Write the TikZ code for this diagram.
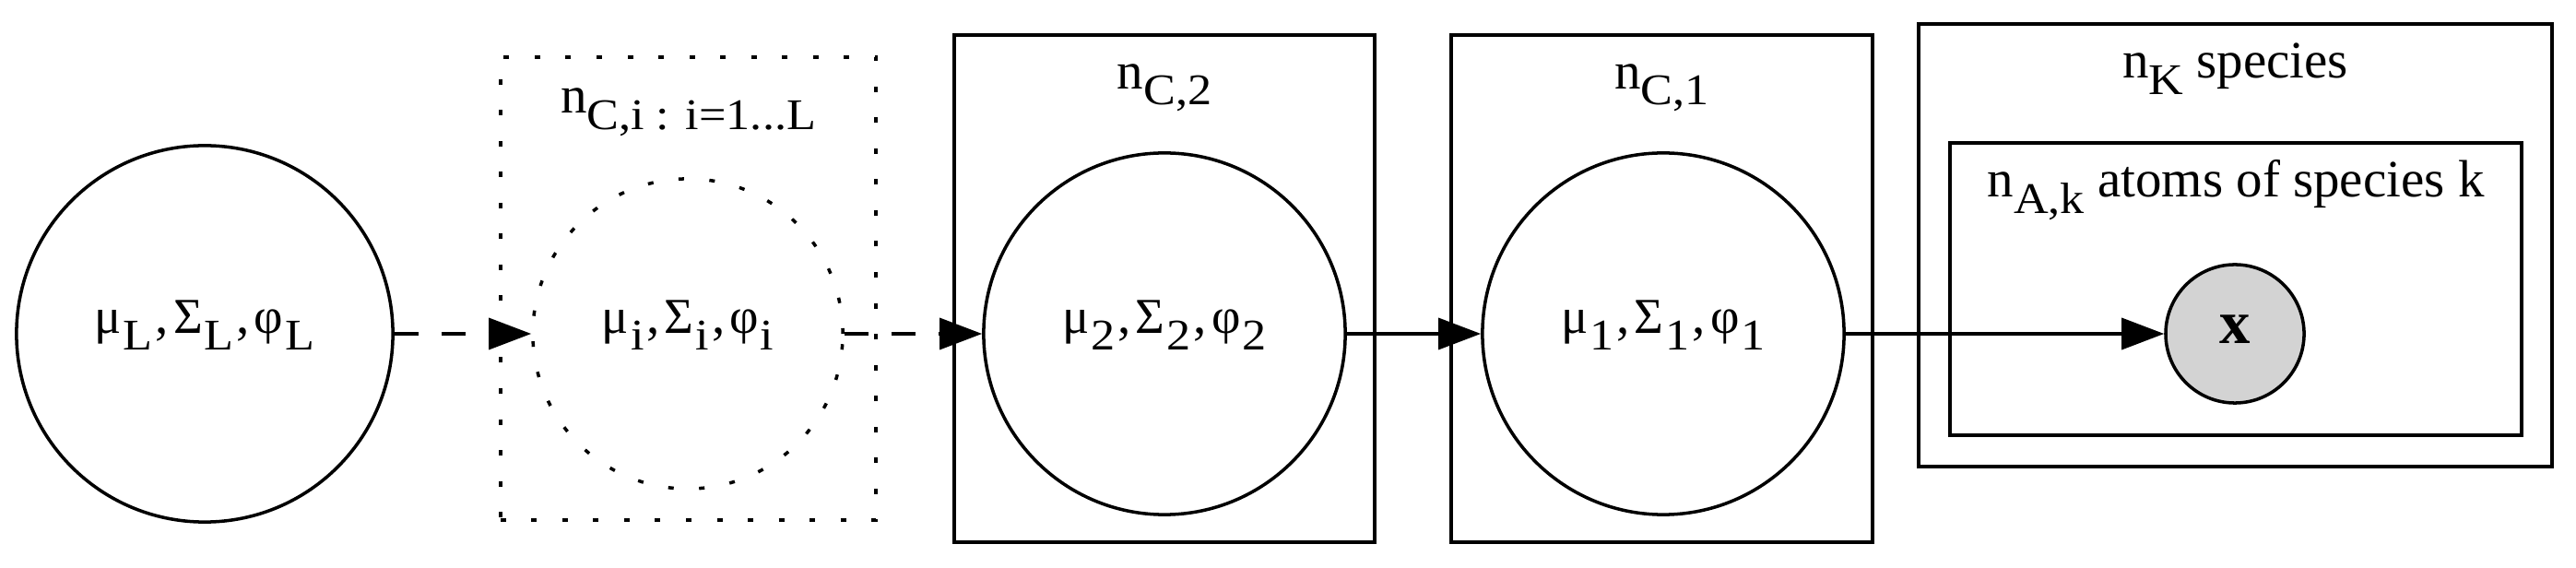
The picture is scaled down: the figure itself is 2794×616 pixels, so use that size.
\documentclass[tikz,border=0pt]{standalone}
\usepackage{fontspec}
\setmainfont{Liberation Serif}
\newfontfamily\stretchfam{Liberation Serif}[FakeStretch=1.1]
\usetikzlibrary{arrows.meta}
\newcommand\mainsz{\fontsize{16.2}{19}\selectfont}
\newcommand\subsz{\stretchfam\fontsize{13.5}{15}\selectfont}
\newcommand\grksz{\fontsize{15.5}{17}\selectfont}
\newcommand\sbx[1]{\raisebox{-0.17cm}{\subsz #1}}
\newcommand\grk[1]{{\grksz #1}\kern0.02cm}
\newcommand\cmmx{\kern0.03cm,\kern0.05cm}
\begin{document}
\begin{tikzpicture}[x=0.01cm,y=-0.01cm,
  var/.style={circle, draw, line width=1pt, inner sep=0pt, text height=0.3cm, text depth=0.3cm, font=\mainsz},
  dotvar/.style={var, dash pattern=on 0.06cm off 0.275cm},
  plate/.style={rectangle, draw, line width=1pt, inner sep=0pt},
  dotplate/.style={plate, dash pattern=on 0.06cm off 0.275cm},
  platelbl/.style={anchor=base, inner sep=0pt, font=\mainsz},
  edge/.style={line width=1pt, -{Triangle[length=0.46cm,width=0.34cm]}},
  dashedge/.style={edge, dash pattern=on 0.26cm off 0.25cm},
]
\useasboundingbox (0,0) rectangle (2794,616);
% plates
\node[dotplate, minimum width=4.07cm, minimum height=5.02cm] (pI) at (746.5,313) {};
\node[plate, minimum width=4.56cm, minimum height=5.50cm] (pC2) at (1263,313) {};
\node[plate, minimum width=4.57cm, minimum height=5.50cm] (pC1) at (1802.5,313) {};
\node[plate, minimum width=6.87cm, minimum height=4.80cm] (pK) at (2424.5,266) {};
\node[plate, minimum width=6.20cm, minimum height=3.17cm] (pA) at (2425,313.5) {};
% plate labels
\node[platelbl] (lI) at (746.5,123) {n\sbx{C,i : i=1...L}};
\node[platelbl] (lC2) at (1263,97) {n\sbx{C,2}};
\node[platelbl] (lC1) at (1802.5,97) {n\sbx{C,1}};
\node[platelbl] (lK) at (2424.5,85) {n\sbx{K} species};
\node[platelbl] (lA) at (2425,214) {n\sbx{A,k} atoms of species k};
% variables
\node[var, minimum size=4.08cm] (L) at (222,362) {\grk{μ}\sbx{L}\cmmx\grk{Σ}\sbx{L}\cmmx\grk{φ}\sbx{L}};
\node[dotvar, minimum size=3.36cm] (I) at (746,362) {\grk{μ}\sbx{i}\cmmx\grk{Σ}\sbx{i}\cmmx\grk{φ}\sbx{i}};
\node[var, minimum size=3.92cm] (C2) at (1263,362) {\grk{μ}\sbx{2}\cmmx\grk{Σ}\sbx{2}\cmmx\grk{φ}\sbx{2}};
\node[var, minimum size=3.92cm] (C1) at (1804,362) {\grk{μ}\sbx{1}\cmmx\grk{Σ}\sbx{1}\cmmx\grk{φ}\sbx{1}};
\node[var, minimum size=1.5cm, fill={rgb,255:red,211;green,211;blue,211}, text height=0.3cm, text depth=0.1cm, font=\fontsize{19}{22}\selectfont\bfseries] (X) at (2424,362) {x};
% edges
\draw[dashedge] (L) -- (I);
\draw[dashedge] (I) -- (C2);
\draw[edge] (C2) -- (C1);
\draw[edge] (C1) -- (X);
\end{tikzpicture}
\end{document}
